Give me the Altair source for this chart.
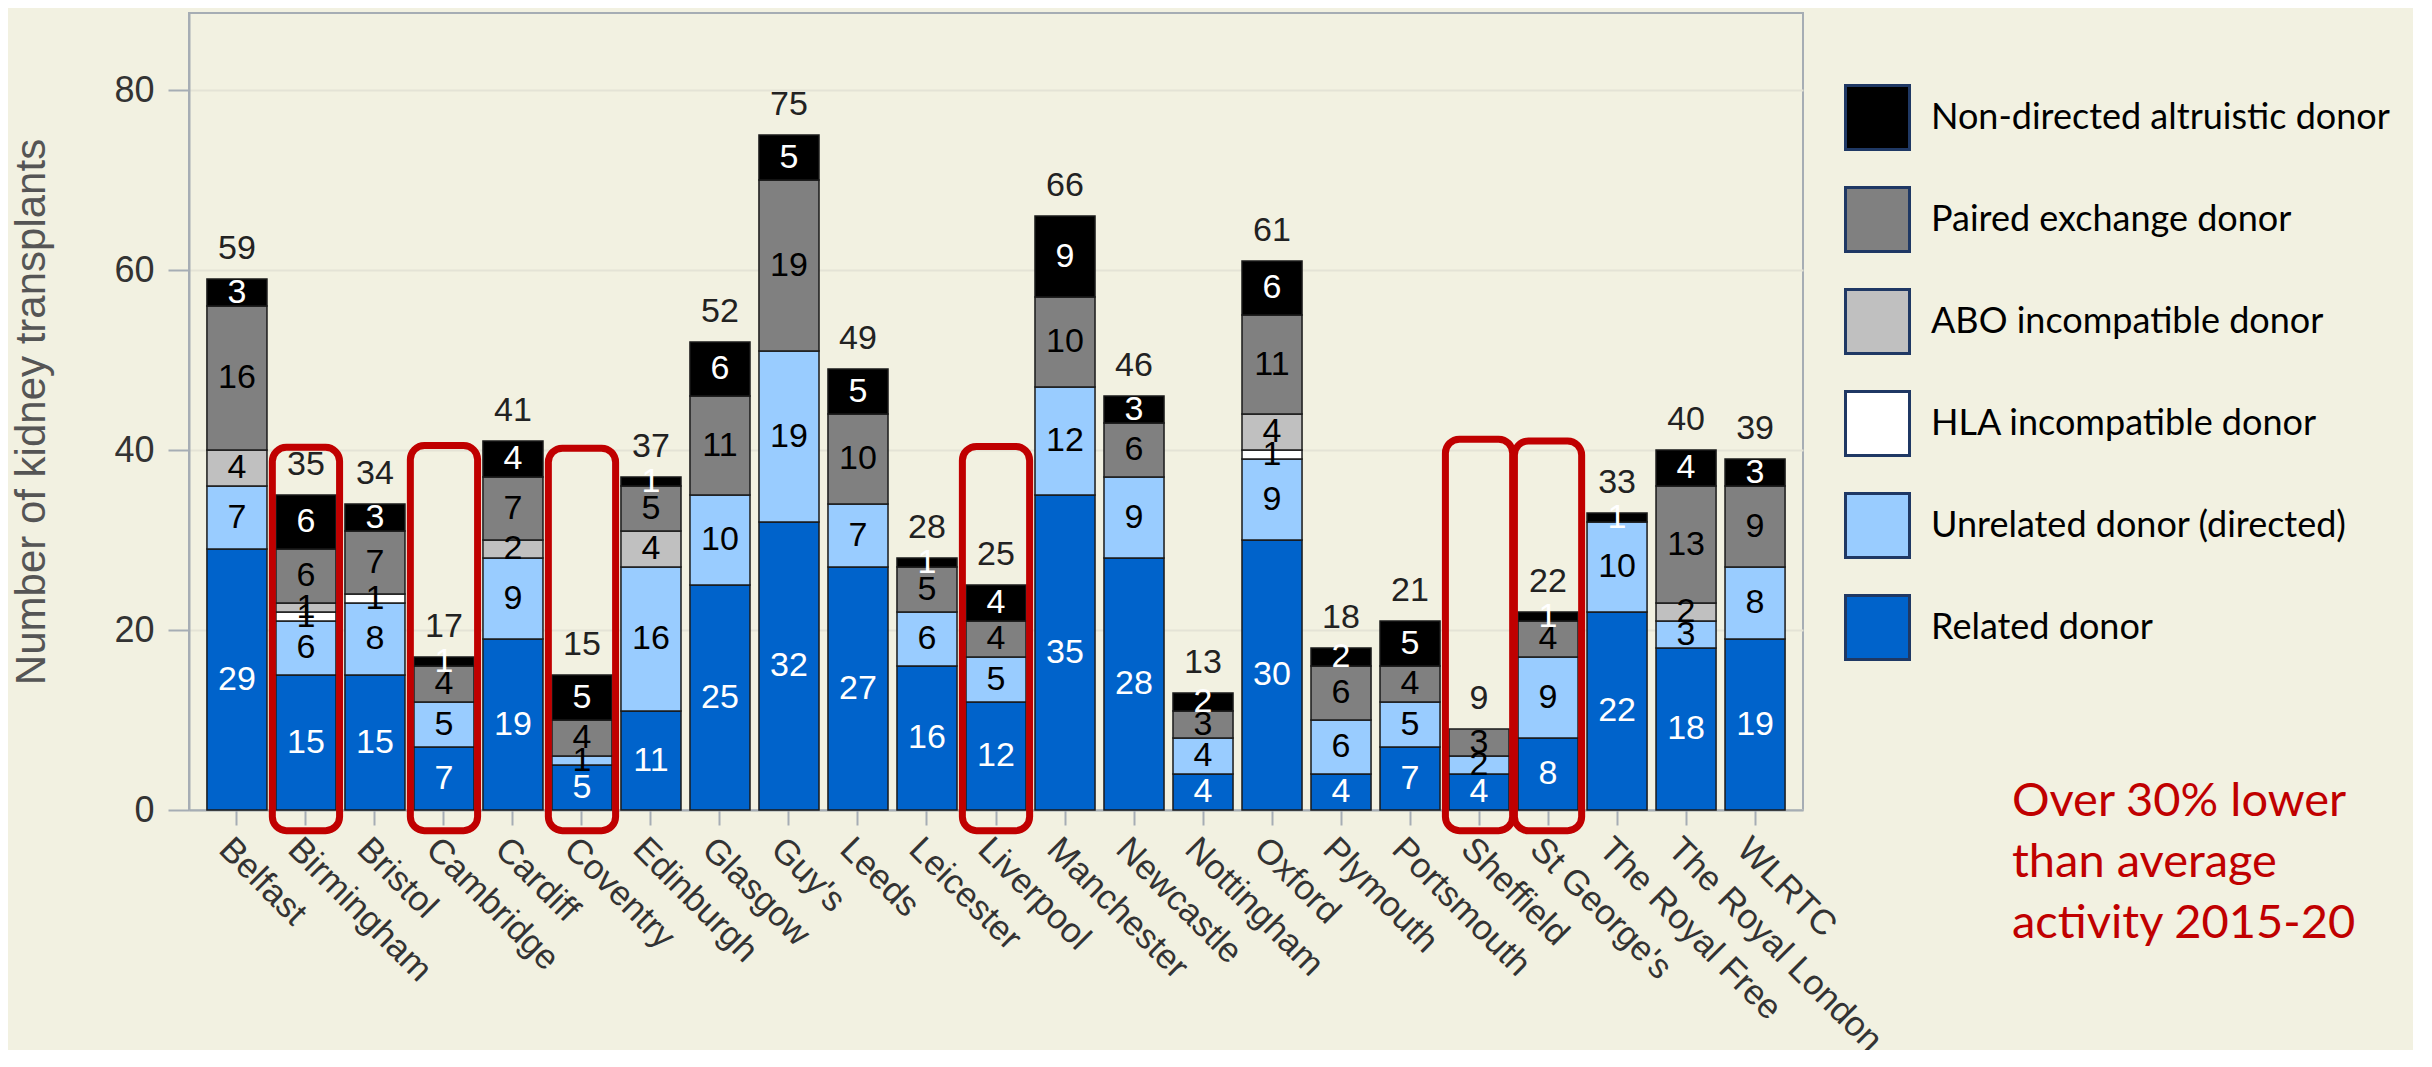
import altair as alt
import pandas as pd

sites = ["Belfast", "Birmingham", "Bristol", "Cambridge", "Cardiff", "Coventry",
         "Edinburgh", "Glasgow", "Guy's", "Leeds", "Leicester", "Liverpool",
         "Manchester", "Newcastle", "Nottingham", "Oxford", "Plymouth", "Portsmouth",
         "Sheffield", "St George's", "The Royal Free", "The Royal London", "WLRTC"]

related   = [29, 15, 15, 7, 19, 5, 11, 25, 32, 27, 16, 12, 35, 28, 4, 30, 4, 7, 4, 8, 22, 18, 19]
unrelated = [7, 6, 8, 5, 9, 1, 16, 10, 19, 7, 6, 5, 12, 9, 4, 9, 6, 5, 2, 9, 10, 3, 8]
hla       = [0, 1, 1, 0, 0, 0, 0, 0, 0, 0, 0, 0, 0, 0, 0, 1, 0, 0, 0, 0, 0, 0, 0]
abo       = [4, 1, 0, 0, 2, 0, 4, 0, 0, 0, 0, 0, 0, 0, 0, 4, 0, 0, 0, 0, 0, 2, 0]
paired    = [16, 6, 7, 4, 7, 4, 5, 11, 19, 10, 5, 4, 10, 6, 3, 11, 6, 4, 3, 4, 0, 13, 9]
ndad      = [3, 6, 3, 1, 4, 5, 1, 6, 5, 5, 1, 4, 9, 3, 2, 6, 2, 5, 0, 1, 1, 4, 3]

categories = ["Related donor", "Unrelated donor (directed)", "HLA incompatible donor",
              "ABO incompatible donor", "Paired exchange donor", "Non-directed altruistic donor"]
cat_colors = ["#0063CB", "#99CCFF", "#FFFFFF", "#C0C0C0", "#808080", "#000000"]
label_colors = ["white", "black", "black", "black", "black", "white"]

highlight_sites = ["Birmingham", "Cambridge", "Coventry", "Liverpool", "Sheffield", "St George's"]
highlight_top = [40.3, 40.5, 40.2, 40.4, 41.2, 41.0]
highlight_bottom = -2.3

note_lines = ["Over 30% lower", "than average", "activity 2015-20"]

series = [related, unrelated, hla, abo, paired, ndad]

rows = []
for i, s in enumerate(sites):
    base = 0
    for k, cat in enumerate(categories):
        v = series[k][i]
        if v > 0:
            rows.append({"site": s, "cat": cat, "value": v, "ord": k,
                         "y0": base, "y1": base + v, "mid": base + v / 2,
                         "tc": label_colors[k]})
        base += v
seg = pd.DataFrame(rows)
tot = pd.DataFrame({"site": sites,
                    "total": [sum(series[k][i] for k in range(6)) for i in range(len(sites))]})
hl = pd.DataFrame({"site": highlight_sites, "top": highlight_top,
                   "bottom": [highlight_bottom] * len(highlight_sites)})

legend_order = categories[::-1]
legend_colors = cat_colors[::-1]

W, H = 1614, 797
x_enc = alt.X("site:N", sort=sites,
              scale=alt.Scale(paddingInner=0.13, paddingOuter=0.26),
              axis=alt.Axis(title=None, labelAngle=45, labelAlign="left", labelBaseline="top",
                            labelFont="Liberation Sans", labelFontSize=35, labelColor="#333333",
                            labelPadding=6, tickSize=15, tickColor="#A6ADB4", tickWidth=2,
                            domainColor="#A6ADB4", domainWidth=2, labelOverlap=False,
                            labelLimit=600))
y_scale = alt.Scale(domain=[0, 88.56], nice=False, zero=False)

bars = alt.Chart(seg).mark_bar(stroke="#1a1a1a", strokeWidth=1.5).encode(
    x=x_enc,
    y=alt.Y("y0:Q", scale=y_scale,
            axis=alt.Axis(values=[0, 20, 40, 60, 80], title="Number of kidney transplants",
                          titleFont="Liberation Sans", titleFontSize=42, titleFontWeight="normal",
                          titleColor="#555555", titlePadding=60,
                          labelFont="Liberation Sans", labelFontSize=36, labelColor="#333333",
                          labelPadding=14, tickSize=21, tickColor="#A6ADB4", tickWidth=2,
                          domainColor="#A6ADB4", domainWidth=2, gridColor="#E4E3D6",
                          gridWidth=2)),
    y2="y1:Q",
    color=alt.Color("cat:N", scale=alt.Scale(domain=legend_order, range=legend_colors),
                    legend=alt.Legend(title=None, orient="none", legendX=1655, legendY=71,
                                      symbolType="square", symbolSize=4096,
                                      symbolStrokeColor="#1F3864", symbolStrokeWidth=3,
                                      symbolOpacity=1,
                                      labelFont="Lato", labelFontSize=36, labelColor="#000000",
                                      labelOffset=20, rowPadding=25, labelLimit=1000)),
)

seg_text = alt.Chart(seg).mark_text(font="Liberation Sans", fontSize=34, baseline="middle").encode(
    x=alt.X("site:N", sort=sites),
    y=alt.Y("mid:Q", scale=y_scale),
    text="value:Q",
    color=alt.Color("tc:N", scale=None),
)

tot_text = alt.Chart(tot).mark_text(font="Liberation Sans", fontSize=34, baseline="middle",
                                    dy=-30, color="#222222").encode(
    x=alt.X("site:N", sort=sites),
    y=alt.Y("total:Q", scale=y_scale),
    text="total:Q",
)

boxes = alt.Chart(hl).mark_bar(filled=False, stroke="#C00000", strokeWidth=7, cornerRadius=14,
                               width=alt.RelativeBandSize(1.12)).encode(
    x=alt.X("site:N", sort=sites),
    y=alt.Y("top:Q", scale=y_scale),
    y2="bottom:Q",
)

note = alt.Chart(pd.DataFrame({"a": [0]})).mark_text(
    text=note_lines, font="Lato", fontSize=47, color="#C00000", align="left",
    baseline="middle", lineHeight=61).encode(
    x=alt.value(1823), y=alt.value(789))

chart = alt.layer(bars, seg_text, tot_text, boxes, note).properties(
    width=W, height=H,
    autosize=alt.AutoSizeParams(type="none"),
    padding={"left": 181, "top": 5, "right": 610, "bottom": 240},
    background="#F2F1E1",
).configure_view(stroke="#A6ADB4", strokeWidth=2)

chart.save("out.html", embed_options={"renderer": "svg", "actions": False})
